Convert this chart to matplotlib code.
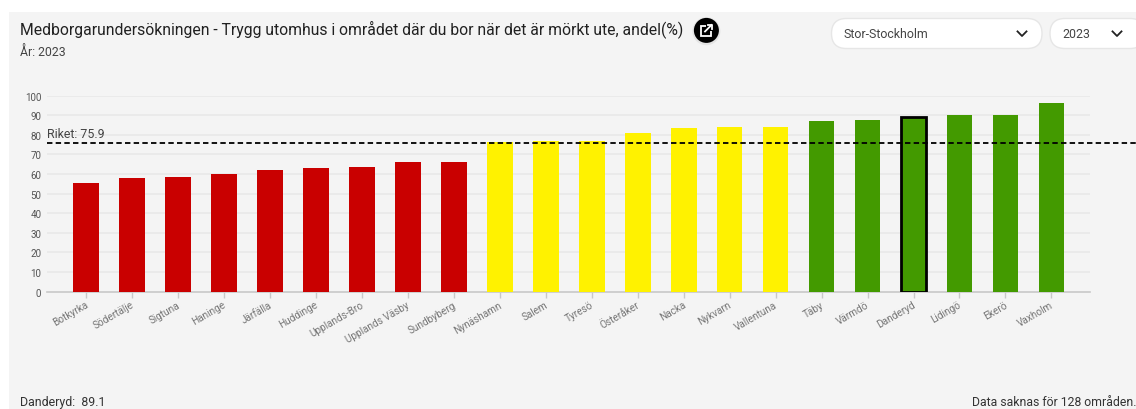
import matplotlib
matplotlib.use("Agg")
import matplotlib.pyplot as plt
from matplotlib.patches import FancyBboxPatch, Circle, Rectangle
from matplotlib.lines import Line2D
from matplotlib.transforms import ScaledTranslation

categories = ["Botkyrka", "Södertälje", "Sigtuna", "Haninge", "Järfälla", "Huddinge",
              "Upplands-Bro", "Upplands Väsby", "Sundbyberg", "Nynäshamn", "Salem", "Tyresö",
              "Österåker", "Nacka", "Nykvarn", "Vallentuna", "Täby", "Värmdö", "Danderyd",
              "Lidingö", "Ekerö", "Vaxholm"]
values = [55.6, 57.8, 58.3, 60.2, 61.9, 63.3, 63.8, 66.0, 66.0, 76.5, 77.0, 77.0,
          81.0, 83.3, 83.8, 83.8, 86.9, 87.4, 89.1, 90.0, 90.0, 96.4]
groups = ["low"] * 9 + ["mid"] * 7 + ["high"] * 6
group_colors = {"low": "#c90000", "mid": "#fff200", "high": "#439a00"}
highlight = "Danderyd"
national = 75.9
yticks = list(range(0, 101, 10))

W, H = 1136, 410
plt.rcParams["font.family"] = ["Roboto", "DejaVu Sans"]
fig = plt.figure(figsize=(W / 100, H / 100), dpi=100, facecolor="white")


def px(x, y):
    return x / W, 1 - y / H


# panel background
fig.add_artist(Rectangle((9 / W, 0), (W - 9) / W, (H - 13) / H, transform=fig.transFigure,
                         facecolor="#f4f4f4", edgecolor="none", zorder=-5))

ax = fig.add_axes([47 / W, 1 - 292.6 / H, (1090 - 47) / W, (292.6 - 96.6) / H])
ax.patch.set_alpha(0)
x = list(range(len(categories)))
colors = [group_colors[g] for g in groups]
bars = ax.bar(x, values, width=0.557, color=colors, zorder=3, linewidth=0)
i = categories.index(highlight)
bars[i].set_edgecolor("#000000")
bars[i].set_linewidth(2.0)
bars[i].set_zorder(3.5)

ax.set_xlim(-0.855, 21.84)
ax.set_ylim(0, 100)
ax.set_yticks(yticks)
ax.set_xticks(x)
ax.set_xticklabels(categories, rotation=30, ha="right", rotation_mode="anchor",
                   fontsize=7.2, color="#757575")
ax.tick_params(axis="x", length=4, width=1, color="#c8c8c8", pad=1.5)
ax.tick_params(axis="y", length=0, pad=4, labelsize=7.1, labelcolor="#555555")
shift = ScaledTranslation(-1.5 / 100, 0, fig.dpi_scale_trans)
for lab in ax.get_xticklabels():
    lab.set_transform(lab.get_transform() + shift)
ax.grid(axis="y", color="#e8e8e8", linewidth=1.1, zorder=0)
ax.set_axisbelow(True)
for s in ["top", "right", "left"]:
    ax.spines[s].set_visible(False)
ax.spines["bottom"].set_color("#c8c8c8")
ax.spines["bottom"].set_linewidth(1.2)
ax.spines["bottom"].set_zorder(2)
ax.yaxis.get_gridlines()[0].set_visible(False)

ax.axhline(national, xmin=0, xmax=(W - 47) / (1090 - 47), color="black", linewidth=1.3,
           linestyle=(0, (3.0, 1.8)), clip_on=False, zorder=5)
fig.text(*px(47, 135), f"Riket: {national}", fontsize=8.9, color="#444444", va="center")

fig.text(*px(20, 29.5), "Medborgarundersökningen - Trygg utomhus i området där du bor när det är mörkt ute, andel(%)",
         fontsize=11.37, color="#212121", va="center")
fig.text(*px(20, 52.5), "År: 2023", fontsize=8.8, color="#444444", va="center")
fig.text(*px(20, 402.5), f"{highlight}:  {values[i]}", fontsize=8.9, color="#333333", va="center")
fig.text(*px(1136, 402.5), "Data saknas för 128 områden.", fontsize=8.85, color="#333333",
         va="center", ha="right")


# overlay in pixel coordinates for the page controls
ov = fig.add_axes([0, 0, 1, 1], zorder=10)
ov.set_xlim(0, W)
ov.set_ylim(H, 0)
ov.axis("off")


def pill(x0, x1, y0, y1):
    ov.add_patch(FancyBboxPatch((x0 + 15, y0 + 15), x1 - x0 - 30, y1 - y0 - 30,
                                boxstyle="round,pad=15", facecolor="white",
                                edgecolor="#e6e6e6", linewidth=1))


def chevron(cx, cy):
    ov.add_line(Line2D([cx - 4.5, cx, cx + 4.5], [cy - 2.3, cy + 2.3, cy - 2.3],
                       color="#222222", linewidth=1.3))


pill(831.5, 1042, 19.5, 49.5)
pill(1050, 1145, 19.5, 49.5)
chevron(1022, 34.7)
chevron(1117, 34.7)
ov.text(844, 34.5, "Stor-Stockholm", fontsize=8.95, color="#444444", va="center")
ov.text(1062, 34.5, "2023", fontsize=8.95, color="#444444", va="center")

# share button
ov.add_patch(Circle((706.4, 32.2), 14, facecolor="#e4e4e4", edgecolor="none"))
ov.add_patch(Circle((706.4, 31.4), 12.5, facecolor="black", edgecolor="none"))
ov.add_patch(Rectangle((701, 27), 9.5, 9.5, facecolor="none", edgecolor="white", linewidth=1.3))
ov.add_patch(Rectangle((705.5, 24.5), 7, 7, facecolor="black", edgecolor="none"))
ov.add_line(Line2D([705, 711.5], [32.5, 26], color="white", linewidth=1.3))
ov.add_line(Line2D([707.5, 712, 712], [25.7, 25.7, 30], color="white", linewidth=1.3))

fig.savefig("out.png", dpi=100, facecolor="white")
